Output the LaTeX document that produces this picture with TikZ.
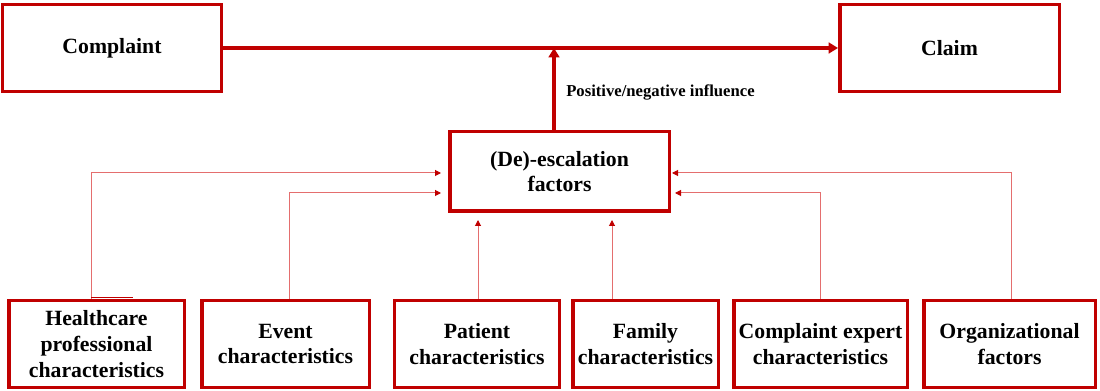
\documentclass[tikz,border=0pt]{standalone}
\usepackage{fontspec}
\setmainfont{Liberation Serif}
\usetikzlibrary{arrows.meta}
\definecolor{dred}{RGB}{192,0,0}
\definecolor{lred}{RGB}{228,110,110}
\begin{document}
\begin{tikzpicture}[x=0.75pt,y=-0.75pt,
  box/.style={draw=dred,line width=2.6pt,fill=white,inner sep=0pt,align=center,
    font=\bfseries\fontsize{16.3}{19.3}\selectfont},
  mainarr/.style={draw=dred,line width=2.4pt,-{Triangle[length=7pt,width=8pt]}},
  thinarr/.style={draw=lred,line width=0.75pt,-{Triangle[length=4.5pt,width=4.5pt,color=dred]}}]
\useasboundingbox (0,0) rectangle (1100,391);
% top row
\node[box,minimum width=163.9pt,minimum height=64.9pt] (comp) at (112,48) {Complaint};
\node[box,minimum width=164.6pt,minimum height=64.9pt] (claim) at (949.5,48) {Claim};
\node[box,minimum width=164.6pt,minimum height=59.6pt] (de) at (559.5,171.5) {(De)-escalation\\factors};
% bottom row
\node[box,minimum width=131.6pt,minimum height=64.9pt] (hc) at (96.5,344) {Healthcare\\professional\\characteristics};
\node[box,minimum width=125.6pt,minimum height=64.9pt] (ev) at (285.5,344) {Event\\characteristics};
\node[box,minimum width=123.4pt,minimum height=64.9pt] (pat) at (477,344) {Patient\\characteristics};
\node[box,minimum width=109.1pt,minimum height=64.9pt] (fam) at (645.5,344) {Family\\characteristics};
\node[box,minimum width=130.1pt,minimum height=64.9pt,text depth=-3pt] (cex) at (820.5,344) {Complaint expert\\characteristics};
\node[box,minimum width=128.6pt,minimum height=64.9pt] (org) at (1009.5,344) {Organizational\\factors};
% label
\node[anchor=west,inner sep=0pt,font=\bfseries\fontsize{12.5}{14}\selectfont] (lab) at (566,92) {Positive/negative influence};
% entry points (arrow tips)
\coordinate (inL1) at (441,173);
\coordinate (inL2) at (441,193);
\coordinate (inR1) at (672,173);
\coordinate (inR2) at (675,193);
\coordinate (inB1) at (478,220);
\coordinate (inB2) at (612,220);
\coordinate (stub) at (133,297.6);
% main connectors
\draw[mainarr] (comp.east) -- (claim.west);
\draw[mainarr] (de.north -| 554,0) -- (comp.east -| 554,0);
% thin connectors
\draw[thinarr] (hc.north -| 91,0) |- (inL1);
\draw[dred,line width=1pt] ([yshift=1.2pt]hc.north -| 91,0) -- ([yshift=1.2pt]hc.north -| stub);
\draw[thinarr] (ev.north -| 289,0) |- (inL2);
\draw[thinarr] (pat.north -| inB1) -- (inB1);
\draw[thinarr] (fam.north -| inB2) -- (inB2);
\draw[thinarr] (cex.north) |- (inR2);
\draw[thinarr] (org.north -| 1011,0) |- (inR1);
\end{tikzpicture}
\end{document}
